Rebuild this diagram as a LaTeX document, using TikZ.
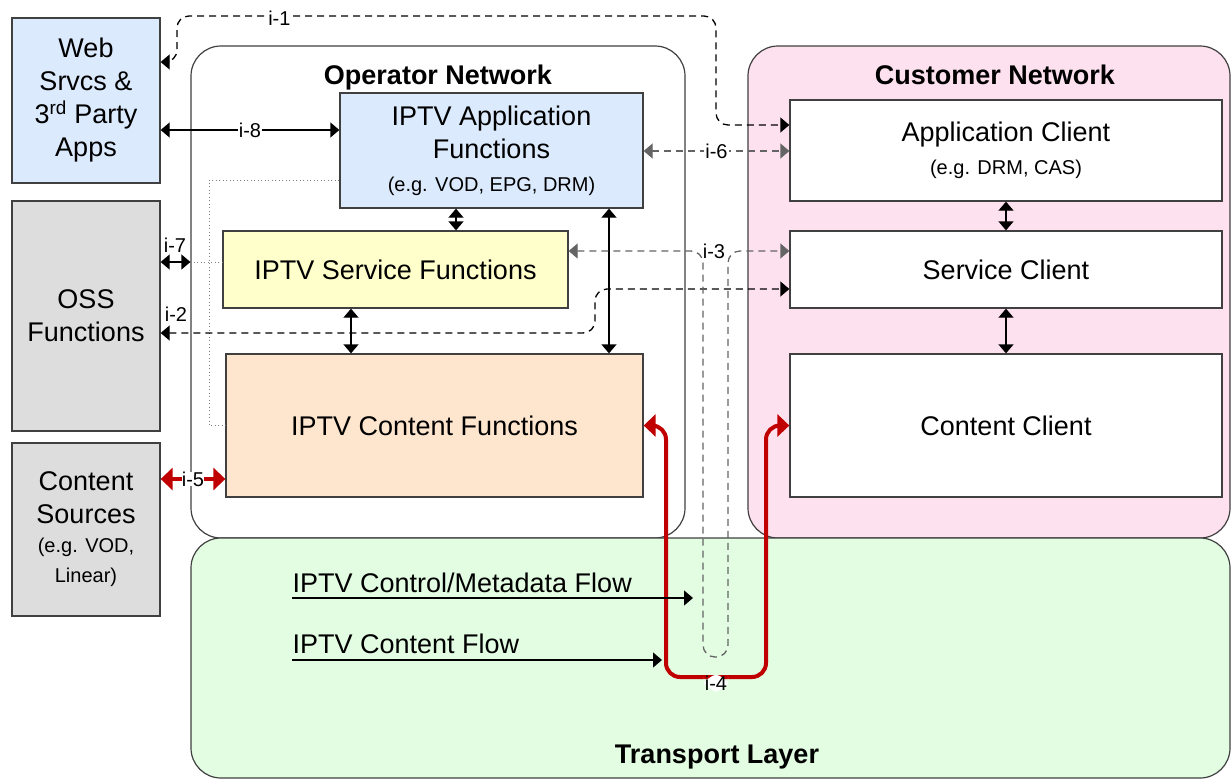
\documentclass[tikz,border=0pt]{standalone}
\usepackage{fontspec}
\setmainfont{Liberation Sans}
\usetikzlibrary{arrows.meta,positioning}
\definecolor{appblue}{RGB}{219,234,253}
\definecolor{ossgray}{RGB}{221,221,221}
\definecolor{svcyellow}{RGB}{255,255,204}
\definecolor{conpeach}{RGB}{253,229,206}
\definecolor{custpink}{RGB}{254,225,238}
\definecolor{transgreen}{RGB}{226,253,226}
\definecolor{boxline}{RGB}{64,64,64}
\definecolor{dashgray}{RGB}{100,100,100}
\definecolor{flowred}{RGB}{192,0,0}
\newcommand{\mainsize}{\fontsize{27}{33}\selectfont}
\newcommand{\notesize}{\fontsize{20}{29}\selectfont}
\newcommand{\tagsize}{\fontsize{20}{24}\selectfont}
\tikzset{func box/.style={rectangle,draw=boxline,line width=1.3pt,align=center,font=\mainsize,inner sep=0pt},
         net area/.style={rectangle,rounded corners=30pt,draw=boxline,line width=1.2pt,inner sep=0pt},
         area title/.style={anchor=base,inner sep=0pt,font=\mainsize\bfseries},
         flow text/.style={anchor=base west,inner sep=0pt,font=\mainsize},
         edge label/.style={rectangle,fill=white,inner sep=1pt,font=\tagsize},
         edge tag/.style={rectangle,inner sep=0pt,font=\tagsize},
         ctl flow/.style={dashed,dash pattern=on 7pt off 5pt},
         hint line/.style={draw=gray,line width=0.9pt,dash pattern=on 1pt off 2.5pt},
         red flow/.style={draw=flowred,line width=4pt,{Triangle[length=12pt,width=22pt]}-{Triangle[length=12pt,width=22pt]}}
}
\begin{document}
\begin{tikzpicture}[x=1pt,y=-1pt,>={Triangle[length=9pt,width=15pt]},line width=1.3pt]
\useasboundingbox (0,0) rectangle (1231,780);
% areas
\node[net area,fill=white,minimum width=494pt,minimum height=492pt] (opnet) at (438,292) {};
\node[net area,fill=custpink,minimum width=482pt,minimum height=492pt] (cunet) at (989,292) {};
\node[net area,fill=transgreen,minimum width=1039pt,minimum height=240pt] (trans) at (710.5,658) {};
\node[area title] (optitle) at (438,84) {Operator Network};
\node[area title] (cutitle) at (995,84) {Customer Network};
\node[area title] (trtitle) at (717,763) {Transport Layer};
% outside boxes
\node[func box,fill=appblue,minimum width=148pt,minimum height=165pt] (web) at (86,100.5)
    {Web\\Srvcs \&\\3\textsuperscript{rd} Party\\Apps};
\node[func box,fill=ossgray,minimum width=148pt,minimum height=230pt] (oss) at (86,316)
    {OSS\\Functions};
\node[func box,fill=ossgray,minimum width=148pt,minimum height=173pt] (src) at (86,529.5)
    {Content\\Sources\\[-4pt]{\notesize (e.g. VOD,}\\[-3pt]{\notesize Linear)}};
% operator functions
\node[func box,fill=appblue,minimum width=303pt,minimum height=115pt] (appf) at (491.5,150.5)
    {IPTV Application\\Functions\\{\notesize (e.g. VOD, EPG, DRM)}};
\node[func box,fill=svcyellow,minimum width=345pt,minimum height=77pt] (svcf) at (395.5,269.5)
    {IPTV Service Functions};
\node[func box,fill=conpeach,minimum width=417pt,minimum height=143pt] (conf) at (434.5,425.5)
    {IPTV Content Functions};
% customer clients
\node[func box,fill=white,minimum width=432pt,minimum height=101pt] (appc) at (1006,150.5)
    {Application Client\\{\notesize (e.g. DRM, CAS)}};
\node[func box,fill=white,minimum width=432pt,minimum height=77pt] (svcc) at (1006,269.5)
    {Service Client};
\node[func box,fill=white,minimum width=432pt,minimum height=143pt] (conc) at (1006,425.5)
    {Content Client};
% dotted hints
\draw[hint line] (appf.west |- 0,180) -- (209,180) -- (209,425.5) -- (conf.west);
\draw[hint line] (opnet.west |- 0,262) -- (svcf.west |- 0,262);
% internal links
\draw[<->] (appf.south -| 456,0) -- (svcf.north -| 456,0);
\draw[<->] (appf.south -| 609,0) -- (conf.north -| 609,0);
\draw[<->] (svcf.south -| 351,0) -- (conf.north -| 351,0);
\draw[<->] (appc.south) -- (svcc.north);
\draw[<->] (svcc.south) -- (conc.north);
% reference points
\draw[<->] (web.east |- 0,130) -- node[edge label,pos=0.5]{i-8} (appf.west |- 0,130);
\draw[ctl flow,<->,rounded corners=12pt] (web.east |- 0,62) -- (177,62) -- (177,16)
    -- node[edge label,pos=0.19,yshift=-2pt]{i-1} (716,16) -- (716,125) -- (appc.west |- 0,125);
\draw[ctl flow,draw=dashgray,<->] (appf.east |- 0,151) -- node[edge label]{i-6} (appc.west |- 0,151);
\draw[ctl flow,<->,rounded corners=12pt] (oss.east |- 0,333) -- (595,333) -- (595,289) -- (svcc.west |- 0,289);
\node[edge tag] (i2) at (176,314) {i-2};
\draw[<->] (oss.east |- 0,262) -- (opnet.west |- 0,262);
\node[edge tag] (i7) at (175,245) {i-7};
\draw[ctl flow,draw=dashgray,<->,rounded corners=12pt] (svcf.east |- 0,251) -- (703,251) -- (703,657)
    -- (728,657) -- (728,251) -- (svcc.west |- 0,251);
\node[edge tag] (i3) at (714,251) {i-3};
\draw[red flow] (src.east |- 0,479) -- node[edge label,inner sep=0pt]{i-5} (conf.west |- 0,479);
\draw[red flow,rounded corners=14pt] (conf.east) -- (666,425.5) -- (666,677)
    -- node[edge label,yshift=-6pt]{i-4} (766,677) -- (766,425.5) -- (conc.west);
% transport flows
\node[flow text] (ctlflow) at (292,592) {IPTV Control/Metadata Flow};
\coordinate (ctlend) at (693,598);
\draw[->] (ctlflow.base west |- ctlend) -- (ctlend);
\node[flow text] (conflow) at (292,653) {IPTV Content Flow};
\coordinate (conend) at (662,660);
\draw[->] (conflow.base west |- conend) -- (conend);
\end{tikzpicture}
\end{document}
